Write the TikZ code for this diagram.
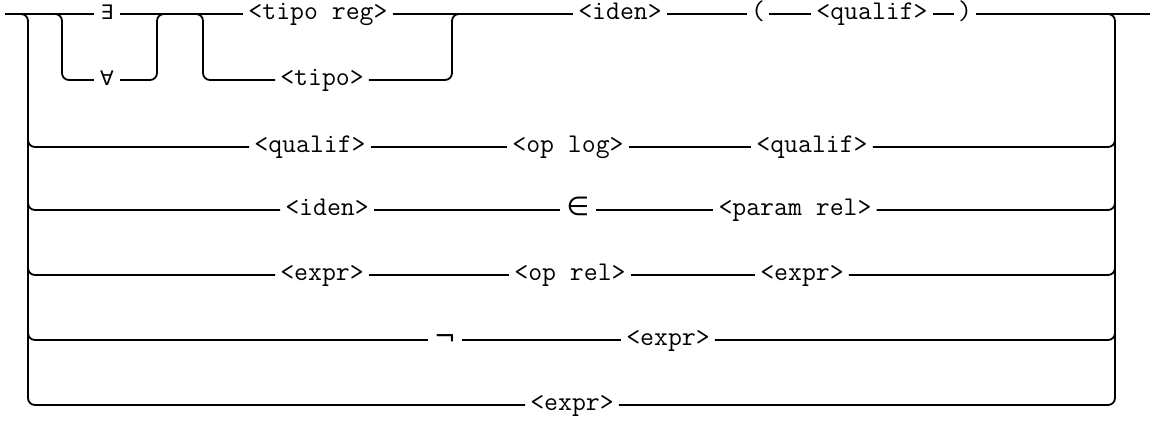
\documentclass[tikz,border=0pt]{standalone}
\usepackage{fontspec}
\newfontfamily\symf{DejaVu Sans}
\begin{document}
\begin{tikzpicture}[x=1pt,y=-1pt,
  lbl/.style={inner xsep=5pt, inner ysep=0pt, text height=11pt, text depth=0pt, font=\ttfamily\fontsize{27}{27}\selectfont},
  sym/.style={inner xsep=6pt, inner ysep=0pt, text height=11pt, text depth=0pt, font=\symf\fontsize{20}{20}\selectfont},
  bigsym/.style={sym, font=\symf\fontsize{26}{26}\selectfont},
  wire/.style={line width=1.8pt, rounded corners=7pt}]
\fill[white] (0,0) rectangle (1150,425);
\useasboundingbox (0,0) rectangle (1150,425);
% row 1
\node[sym] (ex) at (107,14) {∃};
\node[sym] (fa) at (107,80) {∀};
\node[lbl] (tiporeg) at (318,14) {<tipo reg>};
\node[lbl] (tipo) at (322,80) {<tipo>};
\node[lbl] (iden) at (620,14) {<iden>};
\node[lbl,inner xsep=4pt] (lp) at (758,14) {(};
\node[lbl] (q1) at (872,14) {<qualif>};
\node[lbl,inner xsep=4pt] (rp) at (965,14) {)};
% row 2
\node[lbl] (q2) at (310,147) {<qualif>};
\node[lbl] (oplog) at (568,147) {<op log>};
\node[lbl] (q3) at (812,147) {<qualif>};
% row 3
\node[lbl] (iden2) at (327,210) {<iden>};
\node[bigsym] (in) at (578,210) {∈};
\node[lbl] (param) at (795,210) {<param rel>};
% row 4
\node[lbl] (x1) at (322,275) {<expr>};
\node[lbl] (oprel) at (570,275) {<op rel>};
\node[lbl] (x2) at (802,275) {<expr>};
% row 5
\node[bigsym] (neg) at (445,340) {¬};
\node[lbl] (x3) at (668,340) {<expr>};
% row 6
\node[lbl] (x4) at (572,405) {<expr>};
% coordinates
\coordinate (start) at (5,14);
\coordinate (finish) at (1150,14);
\coordinate (L0) at (14,14);
\coordinate (L1) at (28,14);
\coordinate (L2) at (28,133);
\coordinate (L3) at (28,196);
\coordinate (L4) at (28,261);
\coordinate (L5) at (28,326);
\coordinate (R0) at (1100,14);
\coordinate (R1) at (1115,14);
\coordinate (R2) at (1115,133);
\coordinate (R3) at (1115,196);
\coordinate (R4) at (1115,261);
\coordinate (R5) at (1115,326);
\coordinate (sAa) at (48,14);
\coordinate (sA) at (62,14);
\coordinate (mB) at (157,14);
\coordinate (mBb) at (171,14);
\coordinate (sCa) at (189,14);
\coordinate (sC) at (203,14);
\coordinate (mD) at (452,14);
\coordinate (mDb) at (466,14);
% main line row 1
\draw[wire] (start) -- (ex.west);
\draw[wire] (ex.east) -- (tiporeg.west);
\draw[wire] (tiporeg.east) -- (iden.west);
\draw[wire] (iden.east) -- (lp.west);
\draw[wire] (lp.east) -- (q1.west);
\draw[wire] (q1.east) -- (rp.west);
\draw[wire] (rp.east) -- (finish);
% quantifier branch
\draw[wire] (sAa) -- (sA) |- (fa.west);
\draw[wire] (fa.east) -| (mB) -- (mBb);
% type branch
\draw[wire] (sCa) -- (sC) |- (tipo.west);
\draw[wire] (tipo.east) -| (mD) -- (mDb);
% left rail
\draw[wire] (L0) -- (L1) |- (x4.west);
\draw[wire] (L2) |- (q2.west);
\draw[wire] (L3) |- (iden2.west);
\draw[wire] (L4) |- (x1.west);
\draw[wire] (L5) |- (neg.west);
% right rail
\draw[wire] (R0) -- (R1) |- (x4.east);
\draw[wire] (q3.east) -| (R2);
\draw[wire] (param.east) -| (R3);
\draw[wire] (x2.east) -| (R4);
\draw[wire] (x3.east) -| (R5);
% row connectors
\draw[wire] (q2.east) -- (oplog.west);
\draw[wire] (oplog.east) -- (q3.west);
\draw[wire] (iden2.east) -- (in.west);
\draw[wire] (in.east) -- (param.west);
\draw[wire] (x1.east) -- (oprel.west);
\draw[wire] (oprel.east) -- (x2.west);
\draw[wire] (neg.east) -- (x3.west);
\end{tikzpicture}
\end{document}
